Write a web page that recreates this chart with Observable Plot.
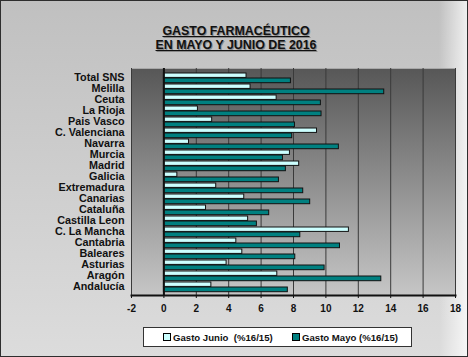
<!DOCTYPE html>
<html>
<head>
<meta charset="utf-8">
<script src="https://cdn.jsdelivr.net/npm/d3@7"></script>
<script src="https://cdn.jsdelivr.net/npm/@observablehq/plot@0.6"></script>
<style>
  html, body { margin: 0; padding: 0; background: #fff; }
  #chart {
    position: relative; width: 468px; height: 357px; box-sizing: border-box;
    border: 1px solid #2e2e2e;
    background: linear-gradient(to right, rgba(255,255,255,0) 94%, rgba(255,255,255,0.75) 100%),
                linear-gradient(to bottom, #c0c0c0, #dcdcdc);
    font-family: "Liberation Sans", Arial, sans-serif;
    overflow: hidden;
  }
  #title {
    height: 54px; box-sizing: border-box; padding-top: 24px;
    text-align: center; font-weight: bold; font-size: 12.4px; line-height: 13.5px;
    color: #111; text-decoration: underline; text-shadow: 1px 1px 0 #8a8a8a;
    padding-left: 4px;
  }
  #plot svg { display: block; }
  #legend {
    position: absolute; left: 142px; top: 326px; width: 269px; height: 20px;
    box-sizing: border-box; background: #fff; border: 1px solid #333;
    font-weight: bold; font-size: 9.6px; color: #111;
    display: flex; align-items: center;
  }
  .item { position: absolute; display: flex; align-items: center; }
  .sw { width: 6px; height: 6px; border: 1px solid #000; margin-right: 2px; }
</style>
</head>
<body>
<div id="chart">
  <div id="title"></div>
  <div id="plot"></div>
  <div id="legend"></div>
</div>
<script>
const titleLines = ["GASTO FARMACÉUTICO", "EN MAYO Y JUNIO DE 2016"];
const categories = ["Total SNS","Melilla","Ceuta","La Rioja","Pais Vasco","C. Valenciana","Navarra","Murcia","Madrid","Galicia","Extremadura","Canarias","Cataluña","Castilla Leon","C. La Mancha","Cantabria","Baleares","Asturias","Aragón","Andalucía"];
const junio = [5.1,5.35,6.96,2.1,2.98,9.45,1.55,7.78,8.35,0.83,3.23,4.96,2.6,5.2,11.42,4.47,4.84,3.87,7.0,2.93];
const mayo = [7.84,13.6,9.69,9.73,8.09,7.92,10.8,7.35,7.53,7.1,8.6,9.03,6.5,5.74,8.42,10.87,8.11,9.92,13.42,7.65];
const seriesNames = ["Gasto Junio  (%16/15)", "Gasto Mayo (%16/15)"];
const xTicks = [-2,0,2,4,6,8,10,12,14,16,18];

document.getElementById("title").innerHTML = titleLines.join("<br>");

const dJunio = categories.map((c, i) => ({cat: c, v: junio[i]}));
const dMayo = categories.map((c, i) => ({cat: c, v: mayo[i]}));

const plot = Plot.plot({
  width: 466,
  height: 262,
  marginTop: 13,
  marginBottom: 22,
  marginLeft: 130,
  marginRight: 12,
  style: {background: "transparent", fontFamily: "'Liberation Sans', Arial, sans-serif", overflow: "visible"},
  x: {domain: [-2, 18], ticks: xTicks, label: null},
  y: {domain: categories, padding: 0, label: null},
  marks: [
    Plot.frame({fill: "url(#plotBg)", stroke: "#a8a8a8"}),
    Plot.gridX(xTicks, {stroke: "#3a3a3a", strokeOpacity: 1}),
    Plot.barX(dJunio, {y: "cat", x: "v", fill: "#ccffff", stroke: "#111", strokeWidth: 1, insetTop: 1, insetBottom: 5.6}),
    Plot.barX(dMayo, {y: "cat", x: "v", fill: "#008080", stroke: "#111", strokeWidth: 1, insetTop: 6.0, insetBottom: 0.3}),
    Plot.ruleX([0], {stroke: "#111", strokeWidth: 2}),
    Plot.frame({anchor: "bottom", stroke: "#111", strokeWidth: 2}),
    Plot.axisX({ticks: xTicks, tickSize: 3, tickPadding: 6, fontSize: 10, fontWeight: "bold", fill: "#111", stroke: "#111", tickFormat: d => String(d)}),
    Plot.axisY({tickSize: 0, tickPadding: 7, fontSize: 10.8, fontWeight: "bold", fill: "#111"})
  ]
});

// gradient definition for the plot area background
const ns = "http://www.w3.org/2000/svg";
const defs = document.createElementNS(ns, "defs");
const grad = document.createElementNS(ns, "linearGradient");
grad.setAttribute("id", "plotBg");
grad.setAttribute("x1", "0"); grad.setAttribute("y1", "0");
grad.setAttribute("x2", "0"); grad.setAttribute("y2", "1");
[["0%", "#575757"], ["100%", "#c6c6c6"]].forEach(([o, c]) => {
  const s = document.createElementNS(ns, "stop");
  s.setAttribute("offset", o); s.setAttribute("stop-color", c);
  grad.appendChild(s);
});
defs.appendChild(grad);
plot.insertBefore(defs, plot.firstChild);
document.getElementById("plot").appendChild(plot);

// legend
const legend = document.getElementById("legend");
const swatchFill = ["#ccffff", "#008080"];
const itemLeft = [19, 148];
seriesNames.forEach((name, i) => {
  const it = document.createElement("div");
  it.className = "item";
  it.style.left = itemLeft[i] + "px";
  const sw = document.createElement("span");
  sw.className = "sw";
  sw.style.background = swatchFill[i];
  const tx = document.createElement("span");
  tx.textContent = name;
  tx.style.whiteSpace = "pre";
  it.appendChild(sw); it.appendChild(tx);
  legend.appendChild(it);
});
</script>
</body>
</html>
